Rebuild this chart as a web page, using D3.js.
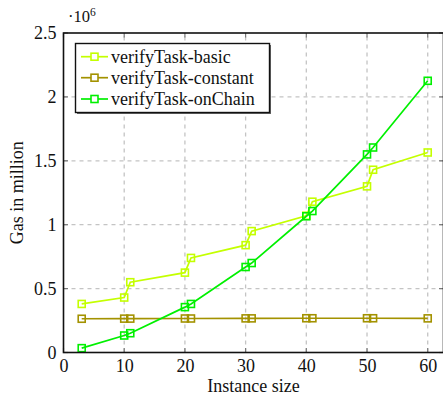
<!DOCTYPE html>
<html>
<head>
<meta charset="utf-8">
<script src="https://cdn.jsdelivr.net/npm/d3@7"></script>
<style>
  html, body { margin: 0; padding: 0; background: #fff; overflow: hidden; }
  svg { display: block; }
</style>
</head>
<body>
<svg id="chart" width="443" height="398"></svg>
<script>
const FONT = "'Liberation Serif', 'Times New Roman', serif";
const FS = 18;

// Instance sizes measured
const instanceSizes = [3, 10, 11, 20, 21, 30, 31, 40, 41, 50, 51, 60];

// Gas used per variant, in millions
const basicGas    = [0.38, 0.43, 0.55, 0.625, 0.74, 0.84, 0.95, 1.07, 1.18, 1.30, 1.43, 1.565];
const constantGas = [0.264, 0.265, 0.265, 0.266, 0.266, 0.267, 0.267, 0.268, 0.268, 0.268, 0.268, 0.267];
const onChainGas  = [0.034, 0.133, 0.151, 0.355, 0.38, 0.669, 0.70, 1.066, 1.107, 1.55, 1.604, 2.126];

const seriesNames  = ["verifyTask-basic", "verifyTask-constant", "verifyTask-onChain"];
const seriesColors = ["#c4ff00", "#a39200", "#00f000"];

const xTicks = [0, 10, 20, 30, 40, 50, 60];
const yTicks = [0, 0.5, 1, 1.5, 2, 2.5];
const yTickLabels = ["0", "0.5", "1", "1.5", "2", "2.5"];

const series = [basicGas, constantGas, onChainGas].map((vals, i) => ({
  name: seriesNames[i],
  color: seriesColors[i],
  points: instanceSizes.map((x, j) => ({ x, y: vals[j] }))
}));

const svg = d3.select("#chart").attr("font-family", FONT);
const plot = { left: 63.5, right: 443.5, top: 33, bottom: 352.5 };

const x = d3.scaleLinear().domain([0, 62.6]).range([plot.left, plot.right]);
const y = d3.scaleLinear().domain([0, 2.5]).range([plot.bottom, plot.top]);

// dashed grid
const grid = svg.append("g").attr("stroke", "#c4c4c4").attr("stroke-width", 1.3)
  .attr("stroke-dasharray", "4,4");
grid.selectAll("line.v").data(xTicks.filter(d => d > 0)).join("line")
  .attr("x1", d => x(d)).attr("x2", d => x(d))
  .attr("y1", plot.bottom).attr("y2", plot.top);
grid.selectAll("line.h").data(yTicks.filter(d => d > 0 && d < 2.5)).join("line")
  .attr("y1", d => y(d)).attr("y2", d => y(d))
  .attr("x1", plot.left).attr("x2", plot.right);

// inward ticks on all four sides
const ticks = svg.append("g").attr("stroke", "#777").attr("stroke-width", 1.2);
xTicks.forEach(d => {
  ticks.append("line").attr("x1", x(d)).attr("x2", x(d)).attr("y1", plot.bottom).attr("y2", plot.bottom - 4.5);
  ticks.append("line").attr("x1", x(d)).attr("x2", x(d)).attr("y1", plot.top).attr("y2", plot.top + 4.5);
});
yTicks.forEach(d => {
  ticks.append("line").attr("y1", y(d)).attr("y2", y(d)).attr("x1", plot.left).attr("x2", plot.left + 4.5);
  ticks.append("line").attr("y1", y(d)).attr("y2", y(d)).attr("x1", plot.right - 4.5).attr("x2", plot.right);
});

// axes via d3 for labels
const xAxis = d3.axisBottom(x).tickValues(xTicks).tickSize(0).tickPadding(7);
const gx = svg.append("g").attr("transform", `translate(0,${plot.bottom})`).call(xAxis)
  .attr("font-family", FONT).attr("font-size", FS);
gx.select(".domain").remove();
gx.selectAll("text").attr("fill", "#111");

const yAxis = d3.axisLeft(y).tickValues(yTicks).tickSize(0).tickPadding(7)
  .tickFormat((d, i) => yTickLabels[i]);
const gy = svg.append("g").attr("transform", `translate(${plot.left},0)`).call(yAxis)
  .attr("font-family", FONT).attr("font-size", FS);
gy.select(".domain").remove();
gy.selectAll("text").attr("fill", "#111");

// series lines and square markers
const line = d3.line().x(d => x(d.x)).y(d => y(d.y));
const ms = 7;
series.forEach(s => {
  const g = svg.append("g");
  g.append("path").datum(s.points).attr("d", line)
    .attr("fill", "none").attr("stroke", s.color).attr("stroke-width", 1.7);
  g.selectAll("rect").data(s.points).join("rect")
    .attr("x", d => x(d.x) - ms / 2).attr("y", d => y(d.y) - ms / 2)
    .attr("width", ms).attr("height", ms)
    .attr("fill", "none").attr("stroke", s.color).attr("stroke-width", 1.6);
});

// plot frame
svg.append("rect")
  .attr("x", plot.left).attr("y", plot.top)
  .attr("width", plot.right - plot.left).attr("height", plot.bottom - plot.top)
  .attr("fill", "none").attr("stroke", "#111").attr("stroke-width", 1.6);

// exponent marker
const exp = svg.append("text").attr("x", 68).attr("y", 22).attr("font-size", 16.5).attr("fill", "#111");
exp.append("tspan").text("·10");
exp.append("tspan").attr("font-size", 11.5).attr("dy", -6).text("6");

// axis titles
svg.append("text").attr("x", (plot.left + plot.right) / 2).attr("y", 392)
  .attr("text-anchor", "middle").attr("font-size", FS).attr("fill", "#111").text("Instance size");
svg.append("text").attr("transform", `translate(23,${(plot.top + plot.bottom) / 2}) rotate(-90)`)
  .attr("text-anchor", "middle").attr("font-size", FS).attr("fill", "#111").text("Gas in million");

// legend
const lg = svg.append("g");
const lx = 75.5, ly = 43.5, lw = 194, lh = 69;
lg.append("rect").attr("x", lx + 1.5).attr("y", ly + 1.5).attr("width", lw).attr("height", lh)
  .attr("fill", "#666");
lg.append("rect").attr("x", lx).attr("y", ly).attr("width", lw).attr("height", lh)
  .attr("fill", "#fff").attr("stroke", "#111").attr("stroke-width", 1.4);
const rowY = [56.7, 77.7, 99];
series.forEach((s, i) => {
  lg.append("line").attr("x1", 81).attr("x2", 108).attr("y1", rowY[i]).attr("y2", rowY[i])
    .attr("stroke", s.color).attr("stroke-width", 1.7);
  lg.append("rect").attr("x", 94.5 - ms / 2).attr("y", rowY[i] - ms / 2)
    .attr("width", ms).attr("height", ms)
    .attr("fill", "#fff").attr("stroke", s.color).attr("stroke-width", 1.6);
  lg.append("text").attr("x", 111).attr("y", rowY[i]).attr("dy", "0.33em")
    .attr("font-size", FS).attr("fill", "#111").text(s.name);
});
</script>
</body>
</html>
